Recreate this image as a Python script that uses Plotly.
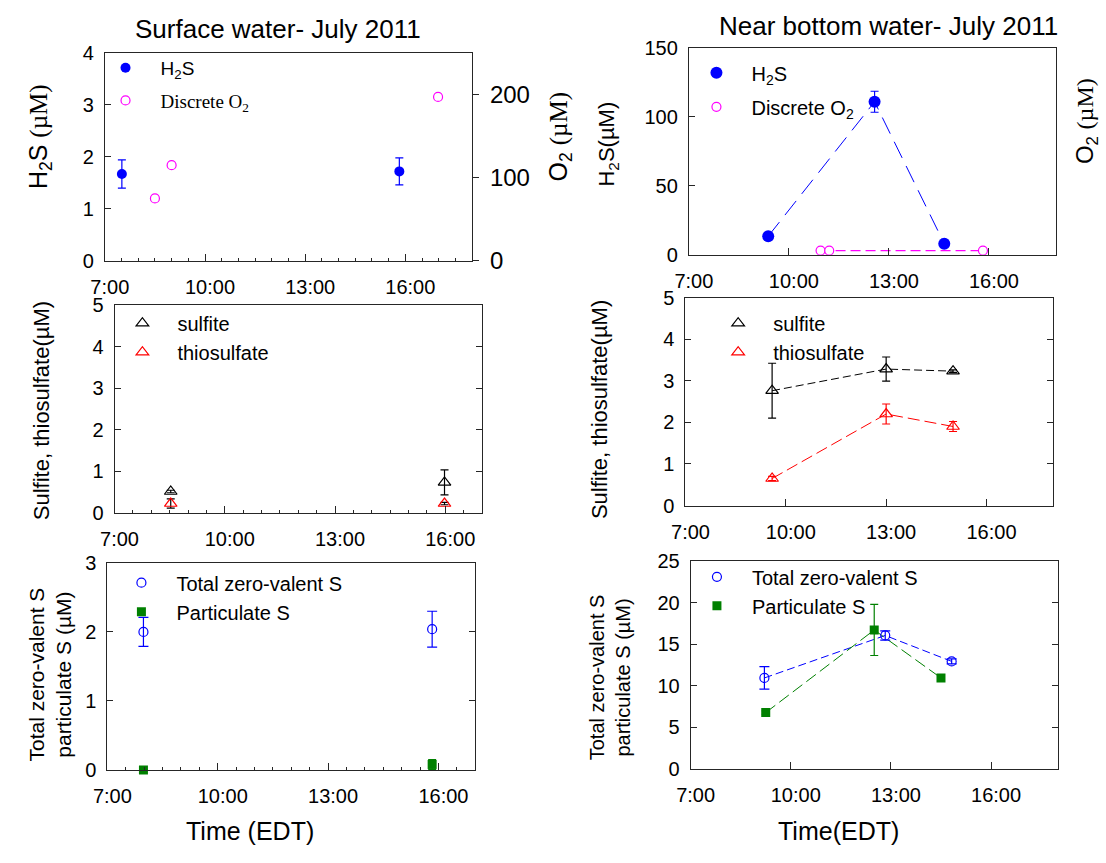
import plotly.graph_objects as go

# ---------------- data ----------------
tick_hours = [7, 10, 13, 16]
tick_text = ["7:00", "10:00", "13:00", "16:00"]

# Surface water - H2S / O2
surf_h2s_t = [7.51, 15.82]
surf_h2s = [1.67, 1.72]
surf_h2s_err = [0.27, 0.26]
surf_o2_t = [8.50, 9.00, 16.98]
surf_o2 = [75, 115, 197]

# Near bottom water - H2S / O2
bot_h2s_t = [9.38, 12.57, 14.66]
bot_h2s = [13.4, 110.8, 8.0]
bot_h2s_err = [1.0, 7.6, 1.0]
bot_o2_t = [10.95, 11.21, 15.82]
bot_o2 = [3.0, 3.0, 3.0]

# Surface water - sulfite / thiosulfate
surf_st_t = [8.53, 15.98]
surf_sulfite = [0.51, 0.73]
surf_sulfite_err = [0.03, 0.30]
surf_thio = [0.22, 0.22]
surf_thio_err = [0.11, 0.03]

# Near bottom water - sulfite / thiosulfate
bot_st_t = [9.59, 13.0, 15.0]
bot_sulfite = [2.76, 3.28, 3.23]
bot_sulfite_err = [0.66, 0.29, 0.03]
bot_thio = [0.65, 2.2, 1.9]
bot_thio_err = [0.05, 0.24, 0.12]

# Surface water - zero-valent S / particulate S
surf_s_t = [7.98, 15.83]
surf_zvs = [2.0, 2.04]
surf_zvs_err = [0.21, 0.26]
surf_part = [0.0, 0.08]
surf_part_err = [0.0, 0.07]

# Near bottom water - zero-valent S / particulate S
bot_zvs_t = [9.21, 12.83, 14.82]
bot_zvs = [10.96, 16.07, 12.95]
bot_zvs_err = [1.35, 0.55, 0.3]
bot_part_t = [9.25, 12.5, 14.5]
bot_part = [6.79, 16.73, 10.96]
bot_part_err = [0.2, 3.07, 0.3]

# ---------------- style ----------------
W, H = 1106, 863
SANS = "Liberation Sans, Arial, sans-serif"
SERIF = "Liberation Serif, Times New Roman, serif"
AXC = "#262626"
BLUE = "#0000FF"
MAG = "#FF00FF"
RED = "#FF0000"
GREEN = "#008000"


def px(x):
    return x / W


def py(y):
    return 1 - y / H


def xaxis(x0, x1, y_id, rng, minor, fs=20):
    d = dict(domain=[px(x0), px(x1)], anchor=y_id, range=rng,
             tickmode="array", tickvals=tick_hours, ticktext=tick_text,
             ticks="inside", ticklen=7, tickcolor=AXC, tickwidth=1,
             showline=True, linecolor=AXC, linewidth=1, mirror=True,
             showgrid=False, zeroline=False,
             tickfont=dict(family=SANS, size=fs, color="black"),
             ticklabelstandoff=8, ticklabelshift=5)
    if minor:
        d["minor"] = dict(dtick=0.5, tick0=7, ticks="inside", ticklen=3,
                          tickcolor=AXC, showgrid=False)
    return d


def yaxis(y0, y1, x_id, rng, dt, fs=20, mirror="ticks"):
    return dict(domain=[py(y1), py(y0)], anchor=x_id, range=rng, dtick=dt,
                tick0=0, ticks="inside", ticklen=6, tickcolor=AXC,
                showline=True, linecolor=AXC, linewidth=1, mirror=mirror,
                showgrid=False, zeroline=False,
                tickfont=dict(family=SANS, size=fs, color="black"),
                ticklabelstandoff=6)


fig = go.Figure()


def err(vals, color, w=4):
    return dict(type="data", array=vals, visible=True, color=color,
                thickness=1.2, width=w)


# Panel 1 : surface H2S / O2
fig.add_trace(go.Scatter(x=surf_h2s_t, y=surf_h2s, mode="markers",
                         name="H<sub>2</sub>S", xaxis="x", yaxis="y",
                         marker=dict(color=BLUE, size=10),
                         error_y=err(surf_h2s_err, BLUE),
                         legend="legend", legendgroup="a"))
fig.add_trace(go.Scatter(x=surf_o2_t, y=surf_o2, mode="markers",
                         name="<span style='font-family:Liberation Serif'>Discrete O<sub>2</sub></span>",
                         xaxis="x", yaxis="y7",
                         marker=dict(color="white", size=9, line=dict(color=MAG, width=1.2)),
                         legend="legend", legendgroup="b"))

# Panel 2 : bottom H2S / O2
fig.add_trace(go.Scatter(x=bot_h2s_t, y=bot_h2s, mode="lines", showlegend=False,
                         xaxis="x2", yaxis="y2",
                         line=dict(color=BLUE, width=1, dash="18px,9px")))
fig.add_trace(go.Scatter(x=bot_o2_t, y=bot_o2, mode="lines", showlegend=False,
                         xaxis="x2", yaxis="y8",
                         line=dict(color=MAG, width=1.2, dash="10px,5px")))
fig.add_trace(go.Scatter(x=bot_h2s_t, y=bot_h2s, mode="markers",
                         name="H<sub>2</sub>S", xaxis="x2", yaxis="y2",
                         marker=dict(color=BLUE, size=12),
                         error_y=err(bot_h2s_err, BLUE),
                         legend="legend2", legendgroup="a"))
fig.add_trace(go.Scatter(x=bot_o2_t, y=bot_o2, mode="markers",
                         name="Discrete O<sub>2</sub>", xaxis="x2", yaxis="y8",
                         marker=dict(color="white", size=9, line=dict(color=MAG, width=1.2)),
                         legend="legend2", legendgroup="b"))

# Panel 3 : surface sulfite / thiosulfate
fig.add_trace(go.Scatter(x=surf_st_t, y=surf_sulfite, mode="markers",
                         name="sulfite", xaxis="x3", yaxis="y3",
                         marker=dict(symbol="triangle-up-open", color="black", size=11,
                                     line=dict(width=1.2)),
                         error_y=err(surf_sulfite_err, "black"),
                         legend="legend3", legendgroup="a"))
fig.add_trace(go.Scatter(x=surf_st_t, y=surf_thio, mode="markers",
                         name="thiosulfate", xaxis="x3", yaxis="y3",
                         marker=dict(symbol="triangle-up-open", color=RED, size=11,
                                     line=dict(width=1.2)),
                         error_y=err(surf_thio_err, "black"),
                         legend="legend3", legendgroup="b"))

# Panel 4 : bottom sulfite / thiosulfate
fig.add_trace(go.Scatter(x=bot_st_t, y=bot_sulfite, mode="lines", showlegend=False,
                         xaxis="x4", yaxis="y4",
                         line=dict(color="black", width=1, dash="8px,4px")))
fig.add_trace(go.Scatter(x=bot_st_t, y=bot_thio, mode="lines", showlegend=False,
                         xaxis="x4", yaxis="y4",
                         line=dict(color=RED, width=1, dash="12px,5px")))
fig.add_trace(go.Scatter(x=bot_st_t, y=bot_sulfite, mode="markers",
                         name="sulfite", xaxis="x4", yaxis="y4",
                         marker=dict(symbol="triangle-up-open", color="black", size=11,
                                     line=dict(width=1.2)),
                         error_y=err(bot_sulfite_err, "black"),
                         legend="legend4", legendgroup="a"))
fig.add_trace(go.Scatter(x=bot_st_t, y=bot_thio, mode="markers",
                         name="thiosulfate", xaxis="x4", yaxis="y4",
                         marker=dict(symbol="triangle-up-open", color=RED, size=11,
                                     line=dict(width=1.2)),
                         error_y=err(bot_thio_err, RED),
                         legend="legend4", legendgroup="b"))

# Panel 5 : surface zero-valent S / particulate S
fig.add_trace(go.Scatter(x=surf_s_t, y=surf_zvs, mode="markers",
                         name="Total zero-valent S", xaxis="x5", yaxis="y5",
                         marker=dict(symbol="circle-open", color=BLUE, size=9,
                                     line=dict(width=1.2)),
                         error_y=err(surf_zvs_err, BLUE, 5),
                         legend="legend5", legendgroup="a"))
fig.add_trace(go.Scatter(x=surf_s_t, y=surf_part, mode="markers",
                         name="Particulate S", xaxis="x5", yaxis="y5",
                         marker=dict(symbol="square", color=GREEN, size=9),
                         error_y=err(surf_part_err, GREEN),
                         cliponaxis=False,
                         legend="legend5", legendgroup="b"))

# Panel 6 : bottom zero-valent S / particulate S
fig.add_trace(go.Scatter(x=bot_zvs_t, y=bot_zvs, mode="lines", showlegend=False,
                         xaxis="x6", yaxis="y6",
                         line=dict(color=BLUE, width=1, dash="8px,4px")))
fig.add_trace(go.Scatter(x=bot_part_t, y=bot_part, mode="lines", showlegend=False,
                         xaxis="x6", yaxis="y6",
                         line=dict(color=GREEN, width=1, dash="12px,5px")))
fig.add_trace(go.Scatter(x=bot_zvs_t, y=bot_zvs, mode="markers",
                         name="Total zero-valent S", xaxis="x6", yaxis="y6",
                         marker=dict(symbol="circle-open", color=BLUE, size=9,
                                     line=dict(width=1.2)),
                         error_y=err(bot_zvs_err, BLUE, 5),
                         legend="legend6", legendgroup="a"))
fig.add_trace(go.Scatter(x=bot_part_t, y=bot_part, mode="markers",
                         name="Particulate S", xaxis="x6", yaxis="y6",
                         marker=dict(symbol="square", color=GREEN, size=9),
                         error_y=err(bot_part_err, GREEN),
                         legend="legend6", legendgroup="b"))


def legend(mx, my_top, fs=20, gap=0):
    return dict(x=px(mx - 35), y=py(my_top), xanchor="left", yanchor="top",
                bgcolor="rgba(0,0,0,0)", borderwidth=0, itemwidth=60,
                tracegroupgap=gap, font=dict(family=SANS, size=fs, color="black"))


ann = []


def label(text, x, y, size, angle=0, family=SANS):
    ann.append(dict(text=text, x=px(x), y=py(y), xref="paper", yref="paper",
                    showarrow=False, xanchor="center", yanchor="middle",
                    textangle=angle, font=dict(family=family, size=size, color="black")))


SER = "<span style='font-family:Liberation Serif'>(µM)</span>"
label("Surface water- July 2011", 267, 19, 26)
label("Near bottom water- July 2011", 886, 15, 26)
label("H<sub>2</sub>S " + SER, 27, 129, 25, -90)
label("O<sub>2</sub> " + SER, 553, 130, 25, -90)
label("H<sub>2</sub>S(µM)", 602, 137, 22, -90)
label("O<sub>2</sub> " + SER, 1087, 113, 24, -90)
label("Sulfite, thiosulfate(µM)", 28, 411, 22, -90)
label("Sulfite, thiosulfate(µM)", 593, 410, 22, -90)
label("Total zero-valent S<br>particulate S (µM)", 36, 683, 21, -90)
label("Total zero-valent S<br>particulate S (µM)", 604, 685, 20, -90)
label("Time (EDT)", 239, 843, 25)
label("Time(EDT)", 835, 843, 25)

fig.update_layout(
    width=W, height=H, margin=dict(l=0, r=0, t=0, b=0),
    paper_bgcolor="white", plot_bgcolor="white",
    font=dict(family=SANS, color="black"),
    xaxis=xaxis(92, 464, "y", [7, 18], True),
    yaxis=yaxis(43, 257, "x", [0, 4], 1, mirror=True),
    yaxis7=dict(overlaying="y", anchor="x", side="right", range=[0, 250],
                tickvals=[0, 100, 200], ticks="outside", ticklen=6, tickcolor=AXC,
                showline=False, showgrid=False, zeroline=False,
                tickfont=dict(family=SANS, size=24, color="black"),
                ticklabelstandoff=6),
    xaxis2=xaxis(683.5, 1055, "y2", [7, 18], False),
    yaxis2=yaxis(37.7, 250.7, "x2", [0, 150], 50, mirror=True),
    yaxis8=dict(overlaying="y2", anchor="x2", side="right", range=[0, 150],
                showticklabels=False, ticks="", showline=False, showgrid=False,
                zeroline=False),
    xaxis3=xaxis(101.8, 474, "y3", [7, 17], True),
    yaxis3=yaxis(302.7, 516, "x3", [0, 5], 1),
    xaxis4=xaxis(680.1, 1052.7, "y4", [7, 18], False),
    yaxis4=yaxis(294.7, 508.7, "x4", [0, 5], 1),
    xaxis5=xaxis(94.6, 467.1, "y5", [7, 17], True),
    yaxis5=yaxis(567.7, 780.7, "x5", [0, 3], 1),
    xaxis6=xaxis(685.3, 1057.2, "y6", [7, 18], False),
    yaxis6=yaxis(566, 779.7, "x6", [0, 25], 5),
    legend=legend(112.5, 39, 19, 5),
    legend2=legend(711, 43.5, 20, 5),
    legend3=legend(129.6, 301, 20, 0),
    legend4=legend(733, 301, 20, 0),
    legend5=legend(128.6, 568, 20, 0),
    legend6=legend(711.5, 562, 20, 0),
    annotations=ann,
)

fig.write_html("out.html")
